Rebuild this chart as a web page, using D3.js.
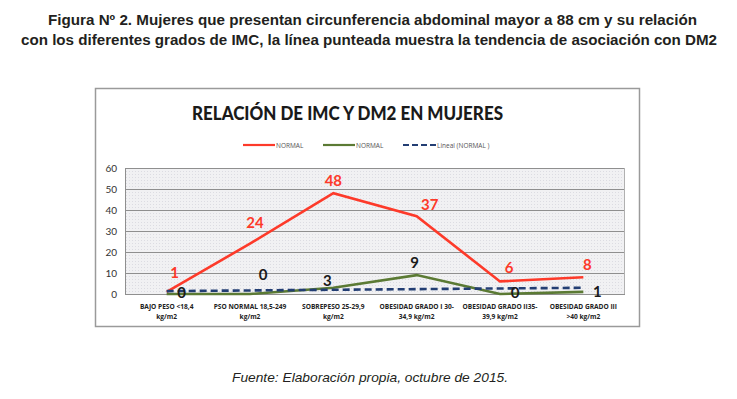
<!DOCTYPE html>
<html><head><meta charset="utf-8">
<script src="https://cdn.jsdelivr.net/npm/d3@7"></script>
<style>body{margin:0;background:#fff}svg{display:block}</style>
</head><body>
<script>
const categories = [
  ["BAJO PESO <18,4", "kg/m2"],
  ["PSO NORMAL 18,5-249", "kg/m2"],
  ["SOBREPESO 25-29,9", "kg/m2"],
  ["OBESIDAD GRADO I 30-", "34,9 kg/m2"],
  ["OBESIDAD GRADO II35-", "39,9 kg/m2"],
  ["OBESIDAD GRADO III", ">40 kg/m2"]
];
const redValues = [1, 24, 48, 37, 6, 8];
const greenValues = [0, 0, 3, 9, 0, 1];
const yTicks = [0, 10, 20, 30, 40, 50, 60];
const legendLabels = ["NORMAL", "NORMAL", "Lineal  (NORMAL )"];
// label offsets (px) – layout only
const redLabelOffsets = [[8,-19],[5,-21],[0,-12],[13,-11],[9,-13],[4,-12]];
const greenLabelOffsets = [[15,-1],[13,-19],[-6,-7],[-2,-12],[15,-1],[14,0]];

const W = 737, H = 399;
const svg = d3.select("body").append("svg").attr("width", W).attr("height", H);
svg.append("rect").attr("width", W).attr("height", H).attr("fill", "#fff");

// header
const hdr = svg.append("g").attr("font-family", "'Liberation Sans Narrow','Liberation Sans',Arial,sans-serif")
  .attr("font-weight", "bold").attr("font-size", 14).attr("fill", "#231f20");
hdr.append("text").attr("x", 48).attr("y", 25).attr("textLength", 649).attr("lengthAdjust", "spacingAndGlyphs")
  .text("Figura Nº 2. Mujeres que presentan circunferencia abdominal mayor a 88 cm y su relación");
hdr.append("text").attr("x", 21).attr("y", 45).attr("textLength", 696).attr("lengthAdjust", "spacingAndGlyphs")
  .text("con los diferentes grados de IMC, la línea punteada muestra la tendencia de asociación con DM2");

// footer
svg.append("text").attr("x", 232).attr("y", 382).attr("textLength", 276).attr("lengthAdjust", "spacingAndGlyphs")
  .attr("font-family", "'Liberation Sans',Arial,sans-serif").attr("font-style", "italic").attr("font-size", 13)
  .attr("fill", "#231f20").text("Fuente: Elaboración propia, octubre de 2015.");

// chart frame
svg.append("rect").attr("x", 95.5).attr("y", 88.5).attr("width", 544).attr("height", 238)
  .attr("fill", "#fff").attr("stroke", "#9a9a9a").attr("stroke-width", 1.5);

// chart title
svg.append("text").attr("x", 192).attr("y", 120).attr("textLength", 311).attr("lengthAdjust", "spacingAndGlyphs")
  .attr("font-family", "Lato,'Open Sans',sans-serif").attr("font-weight", "900").attr("font-size", 19)
  .attr("fill", "#1a1a1a").text("RELACIÓN DE IMC Y DM2 EN MUJERES");

// plot
const pLeft = 125, pRight = 625, pTop = 168, pBottom = 294;
const x = d3.scaleBand().domain(d3.range(categories.length)).range([pLeft, pRight]);
const cx = i => x(i) + x.bandwidth() / 2;
const y = d3.scaleLinear().domain([0, 60]).range([pBottom, pTop]);

const defs = svg.append("defs");
const pat = defs.append("pattern").attr("id", "dots").attr("width", 3).attr("height", 3).attr("patternUnits", "userSpaceOnUse");
pat.append("rect").attr("width", 3).attr("height", 3).attr("fill", "#f1f1f3");
pat.append("rect").attr("width", 1).attr("height", 1).attr("fill", "#dcdce2");
svg.append("rect").attr("x", pLeft).attr("y", pTop).attr("width", pRight - pLeft).attr("height", pBottom - pTop)
  .attr("fill", "url(#dots)");

// grid
svg.append("g").selectAll("line").data(yTicks).join("line")
  .attr("x1", pLeft).attr("x2", pRight).attr("y1", d => Math.round(y(d)) + 0.5).attr("y2", d => Math.round(y(d)) + 0.5)
  .attr("stroke", "#8f8f8f").attr("stroke-width", 1);
svg.append("line").attr("x1", pLeft + 0.5).attr("x2", pLeft + 0.5).attr("y1", pTop).attr("y2", pBottom)
  .attr("stroke", "#8f8f8f");
svg.append("line").attr("x1", pRight - 0.5).attr("x2", pRight - 0.5).attr("y1", pTop).attr("y2", pBottom)
  .attr("stroke", "#b0b0b0");

// y axis
const yAxis = d3.axisLeft(y).tickValues(yTicks).tickSize(0).tickPadding(8);
const ya = svg.append("g").attr("transform", `translate(${pLeft},0)`).call(yAxis);
ya.select(".domain").remove();
ya.selectAll("text").attr("font-family", "Lato,'Open Sans',sans-serif").attr("font-size", 10).attr("fill", "#333");

// x labels
const xl = svg.append("g").attr("font-family", "'Open Sans',Lato,sans-serif").attr("font-weight", "bold")
  .attr("font-size", 6.6).attr("fill", "#222").attr("text-anchor", "middle");
categories.forEach((c, i) => {
  const t = xl.append("text").attr("x", cx(i)).attr("y", 309);
  t.append("tspan").attr("x", cx(i)).attr("dy", 0).text(c[0]);
  t.append("tspan").attr("x", cx(i)).attr("dy", 10).text(c[1]);
});

// lines
const line = d3.line().x((d, i) => cx(i)).y(d => y(d));
svg.append("path").datum(redValues).attr("d", line).attr("fill", "none").attr("stroke", "#fd3a2a").attr("stroke-width", 2.6);
svg.append("path").datum(greenValues).attr("d", line).attr("fill", "none").attr("stroke", "#5b7a34").attr("stroke-width", 2.6);

// linear trend of green series (least squares)
const xs = greenValues.map((d, i) => i + 1);
const mx = d3.mean(xs), my = d3.mean(greenValues);
const slope = d3.sum(xs, (v, i) => (v - mx) * (greenValues[i] - my)) / d3.sum(xs, v => (v - mx) ** 2);
const icpt = my - slope * mx;
const trend = [icpt + slope * 1, icpt + slope * xs.length];
svg.append("line").attr("x1", cx(0)).attr("x2", cx(categories.length - 1))
  .attr("y1", y(trend[0])).attr("y2", y(trend[1]))
  .attr("stroke", "#233e73").attr("stroke-width", 2.6).attr("stroke-dasharray", "7,4");

// data labels
const lblFont = "Lato,'Open Sans',sans-serif";
svg.append("g").selectAll("text").data(redValues).join("text")
  .attr("x", (d, i) => cx(i) + redLabelOffsets[i][0]).attr("y", (d, i) => y(d) + redLabelOffsets[i][1] + 5)
  .attr("text-anchor", "middle").attr("font-family", lblFont).attr("font-weight", "bold").attr("font-size", 15)
  .attr("fill", "#fd3a2a").text(d => d);
svg.append("g").selectAll("text").data(greenValues).join("text")
  .attr("x", (d, i) => cx(i) + greenLabelOffsets[i][0]).attr("y", (d, i) => y(d) + greenLabelOffsets[i][1] + 5)
  .attr("text-anchor", "middle").attr("font-family", lblFont).attr("font-weight", "bold").attr("font-size", 15)
  .attr("fill", "#1a1a1a").text(d => d);

// legend
const lg = svg.append("g").attr("font-family", "'Open Sans',Lato,sans-serif").attr("font-size", 6.5).attr("fill", "#555");
const legendItems = [
  {x0: 243, x1: 275, color: "#fd3a2a", dash: null},
  {x0: 323, x1: 355, color: "#5b7a34", dash: null},
  {x0: 403, x1: 436, color: "#233e73", dash: "6,3"}
];
legendItems.forEach((it, i) => {
  lg.append("line").attr("x1", it.x0).attr("x2", it.x1).attr("y1", 145).attr("y2", 145)
    .attr("stroke", it.color).attr("stroke-width", 2.2).attr("stroke-dasharray", it.dash);
  lg.append("text").attr("x", it.x1 + 1).attr("y", 147.5).text(legendLabels[i]);
});
</script>
</body></html>
